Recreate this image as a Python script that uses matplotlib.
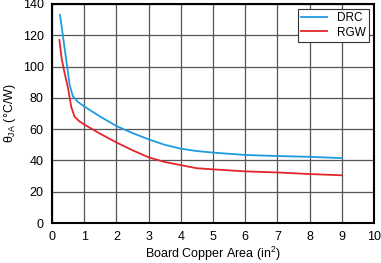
import matplotlib
matplotlib.use("Agg")
import matplotlib.pyplot as plt

plt.rcParams['font.family'] = ['Liberation Sans', 'DejaVu Sans']
plt.rcParams['mathtext.fontset'] = 'custom'
plt.rcParams['mathtext.rm'] = 'Liberation Sans'
plt.rcParams['mathtext.it'] = 'Liberation Sans'

# DRC package
drc_area = [0.25, 0.35, 0.45, 0.55, 0.65, 0.8, 1.0, 1.5, 2.0, 2.5, 3.0, 3.5, 4.0, 4.5, 5.0, 6.0, 7.0, 8.0, 9.0]
drc_theta = [133, 118, 103, 88, 81, 77.5, 74.5, 68, 62, 57.5, 53.5, 50, 47.5, 46, 45, 43.5, 42.8, 42.3, 41.5]

# RGW package
rgw_area = [0.23, 0.3, 0.4, 0.5, 0.6, 0.7, 0.85, 1.0, 1.5, 2.0, 2.5, 3.0, 3.5, 4.0, 4.5, 5.0, 6.0, 7.0, 8.0, 9.0]
rgw_theta = [117, 105, 95, 86, 74, 68, 65, 63, 57, 51.5, 46.5, 42, 39, 37, 35, 34.3, 33, 32.3, 31.3, 30.5]

fig = plt.figure(figsize=(3.81, 2.63), dpi=100)
ax = fig.add_axes([52/381, 40/263, 322/381, 219/263])

ax.plot(drc_area, drc_theta, color='#1c9de0', lw=1.3, label='DRC')
ax.plot(rgw_area, rgw_theta, color='#e2262b', lw=1.3, label='RGW')

ax.set_xlim(0, 10)
ax.set_ylim(0, 140)
ax.set_xticks(range(0, 11))
ax.set_yticks(range(0, 141, 20))
ax.grid(True, color='#555555', lw=0.9)
ax.set_axisbelow(True)
for s in ax.spines.values():
    s.set_linewidth(1.5)
ax.tick_params(length=0, labelsize=9, pad=6)

ax.set_xlabel('Board Copper Area (in$^2$)', fontsize=9, labelpad=1)
ax.set_ylabel(r'$\theta_{\mathrm{JA}}$ ($\degree$C/W)', fontsize=9, labelpad=3)

leg = ax.legend(loc='upper right', fontsize=8.5, fancybox=False, framealpha=1,
                edgecolor='#333333', handlelength=2.2, borderaxespad=0.4,
                labelspacing=0.2, borderpad=0.3)
leg.get_frame().set_linewidth(0.8)

fig.savefig('out.png', dpi=100)
